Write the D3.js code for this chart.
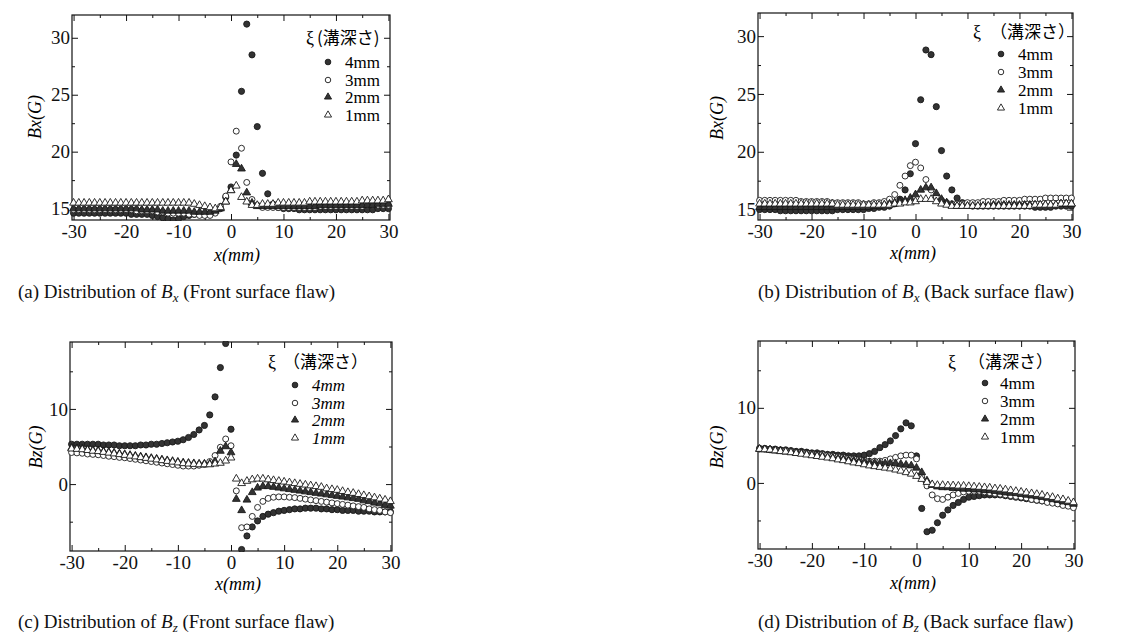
<!DOCTYPE html>
<html>
<head>
<meta charset="utf-8">
<script src="https://cdn.jsdelivr.net/npm/d3@7"></script>
<style>
  body { margin: 0; background: #fff; }
  svg { display: block; font-family: 'Liberation Serif', 'Times New Roman', 'Noto Sans CJK JP', serif; }
</style>
</head>
<body>
<svg id="fig" width="1128" height="640"></svg>
<script>
// positions along the plate (mm)
const xPositions = [-30,-29,-28,-27,-26,-25,-24,-23,-22,-21,-20,-19,-18,-17,-16,-15,-14,-13,-12,-11,
  -10,-9,-8,-7,-6,-5,-4,-3,-2,-1,0,1,2,3,4,5,6,7,8,9,10,11,12,13,14,15,16,17,18,19,20,
  21,22,23,24,25,26,27,28,29,30];

const depthLabels = ['4mm', '3mm', '2mm', '1mm'];

const xTicks = [-30, -20, -10, 0, 10, 20, 30];
const xMinorTicks = [-25, -15, -5, 5, 15, 25];
const bxTicks = [15, 20, 25, 30];
const bxMinorTicks = [17.5, 22.5, 27.5];
const bzTicks = [0, 10];
const bzMinorTicks = [-5, 5, 15];

// (a) Bx, front surface flaw
const aBx4 = [14.6,14.6,14.6,14.6,14.6,14.6,14.6,14.6,14.6,14.6, 14.6,14.5,14.5,14.5,14.5,14.4,14.3,14.2,14.1,14.0,
  14.1,14.3,14.4,14.5,14.5,14.5,14.6,14.7,15.0,16.0, 16.9,
  19.7,25.3,31.2,28.5,22.2,18.1,16.3,15.4,15.1,15.0, 15.0,15.0,14.9,14.9,14.9,14.9,14.9,14.9,14.9,14.9,
  14.9,14.9,14.9,14.9,14.9,14.9,14.9,15.0,15.0,15.0];
const aBx3 = [14.9,14.9,14.9,14.9,14.9,14.9,14.9,14.9,14.9,14.9, 14.9,14.9,14.8,14.8,14.8,14.8,14.7,14.7,14.6,14.6,
  14.6,14.6,14.5,14.5,14.4,14.4,14.4,14.6,15.2,16.1, 19.1,
  21.8,20.3,17.3,15.8,15.3,15.1,15.1,15.1,15.1,15.1, 15.1,15.1,15.1,15.1,15.1,15.1,15.2,15.2,15.2,15.2,
  15.2,15.2,15.2,15.2,15.2,15.3,15.3,15.3,15.3,15.3];
const aBx2 = [15.0,15.0,15.0,15.0,15.0,15.0,15.0,15.0,15.0,15.0, 15.0,15.0,15.0,14.9,14.9,14.9,14.9,14.8,14.8,14.8,
  14.8,14.8,14.8,14.7,14.7,14.7,14.7,14.8,15.0,15.6, 16.6,
  18.9,18.5,16.4,15.5,15.2,15.2,15.2,15.2,15.2,15.2, 15.2,15.2,15.2,15.2,15.2,15.2,15.3,15.3,15.3,15.3,
  15.3,15.3,15.3,15.3,15.3,15.3,15.3,15.4,15.4,15.4];
const aBx1 = [15.5,15.5,15.5,15.5,15.5,15.5,15.5,15.5,15.5,15.5, 15.5,15.5,15.5,15.5,15.5,15.5,15.5,15.5,15.5,15.5,
  15.5,15.5,15.5,15.4,15.3,15.2,15.1,15.0,15.1,15.6, 16.6,
  17.0,16.0,15.6,15.3,15.3,15.4,15.4,15.4,15.5,15.5, 15.5,15.5,15.5,15.5,15.6,15.6,15.6,15.6,15.6,15.6,
  15.6,15.6,15.6,15.6,15.7,15.7,15.7,15.7,15.7,15.8];

// (b) Bx, back surface flaw
const bBx4 = [15.0,15.0,15.0,15.0,14.9,14.9,14.9,14.9,14.9,14.9, 14.9,14.9,14.9,14.9,14.9,15.0,15.0,15.0,15.0,15.0,
  15.0,15.1,15.1,15.2,15.2,15.3,15.5,15.9,16.7,18.1, 20.7,
  24.5,28.8,28.4,23.9,20.1,17.9,16.7,16.0,15.6,15.4, 15.3,15.3,15.3,15.3,15.3,15.3,15.3,15.3,15.3,15.3,
  15.3,15.3,15.2,15.2,15.2,15.2,15.3,15.3,15.3,15.3];
const bBx3 = [15.8,15.8,15.8,15.8,15.8,15.8,15.8,15.8,15.7,15.7, 15.7,15.7,15.7,15.7,15.6,15.6,15.6,15.6,15.6,15.6,
  15.5,15.5,15.6,15.6,15.7,15.9,16.3,17.1,17.9,18.8, 19.1,
  18.6,17.6,16.7,16.1,15.8,15.6,15.5,15.5,15.5,15.6, 15.6,15.6,15.7,15.7,15.7,15.7,15.8,15.8,15.8,15.8,
  15.9,15.9,15.9,15.9,16.0,16.0,16.0,16.0,16.0,16.0];
const bBx2 = [15.2,15.2,15.2,15.2,15.2,15.2,15.2,15.2,15.2,15.2, 15.2,15.2,15.2,15.2,15.2,15.2,15.2,15.2,15.2,15.2,
  15.2,15.2,15.3,15.3,15.4,15.5,15.6,15.7,15.8,16.0, 16.3,
  16.7,16.9,16.9,16.4,15.9,15.6,15.4,15.3,15.3,15.3, 15.3,15.3,15.3,15.3,15.4,15.4,15.4,15.4,15.4,15.4,
  15.4,15.4,15.4,15.4,15.4,15.4,15.4,15.5,15.5,15.5];
const bBx1 = [15.5,15.5,15.5,15.5,15.5,15.5,15.5,15.5,15.5,15.5, 15.5,15.5,15.5,15.5,15.5,15.4,15.4,15.4,15.4,15.4,
  15.4,15.4,15.4,15.4,15.4,15.4,15.5,15.5,15.6,15.6, 15.7,
  15.9,15.9,15.9,15.7,15.5,15.4,15.3,15.3,15.3,15.3, 15.3,15.3,15.3,15.3,15.3,15.3,15.3,15.3,15.3,15.3,
  15.3,15.3,15.4,15.4,15.4,15.4,15.4,15.5,15.5,15.5];

// (c) Bz, front surface flaw
const cBz4 = [5.3,5.3,5.3,5.3,5.3,5.3,5.2,5.2,5.2,5.1, 5.1,5.1,5.1,5.2,5.2,5.3,5.3,5.4,5.5,5.6,
  5.7,5.9,6.2,6.6,7.2,7.8,9.2,11.6,15.5,18.7, 7.3,
  -12.0,-8.7,-6.9,-5.7,-4.9,-4.3,-4.0,-3.8,-3.6,-3.5, -3.4,-3.3,-3.3,-3.2,-3.2,-3.2,-3.3,-3.3,-3.4,-3.4,
  -3.5,-3.5,-3.5,-3.6,-3.6,-3.6,-3.7,-3.7,-3.7,-3.7];
const cBz3 = [4.2,4.15,4.1,4.0,3.95,3.9,3.8,3.7,3.65,3.55, 3.5,3.4,3.3,3.2,3.1,3.0,2.9,2.8,2.7,2.6,
  2.5,2.4,2.4,2.4,2.5,2.6,3.0,3.8,4.9,6.0, 5.1,
  -0.9,-5.8,-5.7,-4.3,-3.1,-2.3,-1.9,-1.75,-1.7,-1.7, -1.75,-1.8,-1.9,-2.0,-2.1,-2.2,-2.3,-2.4,-2.5,-2.6,
  -2.7,-2.8,-2.9,-3.0,-3.1,-3.3,-3.4,-3.5,-3.7,-3.8];
const cBz2 = [4.8,4.75,4.7,4.6,4.5,4.45,4.35,4.25,4.15,4.05, 3.95,3.85,3.75,3.65,3.55,3.45,3.35,3.25,3.15,3.05,
  2.95,2.85,2.8,2.75,2.7,2.7,2.7,3.0,4.4,5.0, 4.2,
  -2.0,-3.5,-2.1,-1.1,-0.5,-0.3,-0.3,-0.4,-0.5,-0.6, -0.7,-0.8,-0.9,-1.0,-1.1,-1.2,-1.3,-1.4,-1.5,-1.6,
  -1.7,-1.8,-1.9,-2.0,-2.2,-2.3,-2.5,-2.6,-2.8,-2.9];
const cBz1 = [4.7,4.65,4.6,4.5,4.4,4.35,4.25,4.15,4.05,3.95, 3.85,3.75,3.65,3.55,3.45,3.35,3.25,3.15,3.05,2.95,
  2.85,2.75,2.7,2.65,2.6,2.6,2.6,2.7,2.8,3.1, 3.5,
  0.7,0.1,0.4,0.6,0.7,0.7,0.6,0.5,0.4,0.3, 0.2,0.1,0.0,-0.1,-0.2,-0.3,-0.4,-0.6,-0.7,-0.8,
  -0.95,-1.1,-1.2,-1.35,-1.5,-1.65,-1.8,-1.95,-2.1,-2.3];

// (d) Bz, back surface flaw
const dBz4 = [4.6,4.6,4.5,4.5,4.4,4.4,4.3,4.2,4.2,4.1, 4.0,4.0,3.9,3.8,3.8,3.7,3.7,3.6,3.6,3.6,
  3.7,3.9,4.2,4.7,5.1,5.6,6.3,7.2,8.0,7.6, 3.6,
  -3.4,-6.5,-6.3,-5.3,-4.3,-3.6,-3.0,-2.6,-2.2,-1.9, -1.8,-1.7,-1.6,-1.6,-1.6,-1.6,-1.7,-1.8,-1.9,-2.0,
  -2.1,-2.2,-2.3,-2.4,-2.5,-2.6,-2.7,-2.8,-2.9,-3.0];
const dBz3 = [4.5,4.5,4.4,4.4,4.3,4.3,4.2,4.1,4.1,4.0, 3.9,3.8,3.8,3.7,3.6,3.5,3.4,3.3,3.2,3.1,
  3.0,2.9,2.9,2.9,3.0,3.2,3.4,3.6,3.7,3.7, 3.2,
  0.8,-0.4,-1.6,-2.1,-2.2,-1.9,-1.6,-1.4,-1.2,-1.1, -1.1,-1.1,-1.2,-1.3,-1.4,-1.5,-1.6,-1.7,-1.8,-1.9,
  -2.0,-2.2,-2.3,-2.4,-2.6,-2.7,-2.8,-3.0,-3.1,-3.3];
const dBz2 = [4.5,4.45,4.4,4.3,4.25,4.15,4.1,4.0,3.95,3.85, 3.75,3.65,3.55,3.45,3.35,3.25,3.15,3.05,2.95,2.85,
  2.8,2.7,2.65,2.6,2.6,2.6,2.6,2.5,2.4,2.3, 2.0,
  1.4,0.3,-0.3,-0.5,-0.6,-0.6,-0.7,-0.7,-0.8,-0.8, -0.9,-0.9,-1.0,-1.0,-1.1,-1.2,-1.3,-1.35,-1.4,-1.5,
  -1.6,-1.7,-1.8,-1.9,-2.0,-2.2,-2.3,-2.5,-2.6,-2.8];
const dBz1 = [4.5,4.45,4.4,4.3,4.2,4.15,4.05,3.95,3.85,3.75, 3.65,3.55,3.45,3.35,3.25,3.1,3.0,2.85,2.7,2.6,
  2.45,2.3,2.2,2.1,2.0,1.9,1.75,1.6,1.4,1.2, 0.9,
  0.5,0.1,-0.2,-0.3,-0.3,-0.35,-0.35,-0.4,-0.4,-0.45, -0.5,-0.55,-0.6,-0.65,-0.75,-0.8,-0.9,-1.0,-1.1,-1.2,
  -1.3,-1.4,-1.5,-1.6,-1.8,-1.9,-2.1,-2.2,-2.4,-2.6];

const svg = d3.select('#fig');
const SERIF = "'Liberation Serif', 'Times New Roman', 'Noto Sans CJK JP', serif";

// marker looks for 4mm, 3mm, 2mm, 1mm
const markerKinds = [
  { shape: d3.symbolCircle, fill: '#333', size: 30 },
  { shape: d3.symbolCircle, fill: '#fff', size: 28 },
  { shape: d3.symbolTriangle, fill: '#333', size: 26 },
  { shape: d3.symbolTriangle, fill: '#fff', size: 26 },
];

const addMarker = (sel, kind, scale) =>
  sel
    .append('path')
    .attr('d', d3.symbol().type(kind.shape).size(kind.size * (scale || 1)))
    .attr('fill', kind.fill)
    .attr('stroke', '#1a1a1a')
    .attr('stroke-width', 0.9);

const panels = [
  {
    id: 'a', series: [aBx4, aBx3, aBx2, aBx1],
    left: 72, right: 390, top: 15, bottom: 220, yDomain: [14, 32],
    yTicks: bxTicks, yMinor: bxMinorTicks, yName: 'Bx(G)', yLab: [35, 117], xLab: [237, 261],
    legend: { xi: 306, paren: 317, title: '(溝深さ)', ty: 44, ys: [62, 80, 97, 115], mx: 328, tx: 345, italic: false },
    caption: { x: 18, y: 298, tag: '(a)', sub: 'x', tail: ' (Front surface flaw)' },
  },
  {
    id: 'b', series: [bBx4, bBx3, bBx2, bBx1],
    left: 758, right: 1073, top: 13, bottom: 220, yDomain: [14.1, 32],
    yTicks: bxTicks, yMinor: bxMinorTicks, yName: 'Bx(G)', yLab: [717, 118], xLab: [913, 259],
    legend: { xi: 973, paren: 990, title: '（溝深さ）', ty: 38, ys: [54, 72, 90, 108], mx: 1001, tx: 1018, italic: false },
    caption: { x: 758, y: 298, tag: '(b)', sub: 'x', tail: ' (Back surface flaw)' },
  },
  {
    id: 'c', series: [cBz4, cBz3, cBz2, cBz1],
    left: 70, right: 392, top: 342, bottom: 551, yDomain: [-8.9, 18.9],
    yTicks: bzTicks, yMinor: bzMinorTicks, yName: 'Bz(G)', yLab: [36, 447], xLab: [238, 590],
    legend: { xi: 268, paren: 283, title: '（溝深さ）', ty: 368, ys: [385, 403, 420, 438], mx: 295, tx: 312, italic: true },
    caption: { x: 18, y: 628, tag: '(c)', sub: 'z', tail: ' (Front surface flaw)' },
  },
  {
    id: 'd', series: [dBz4, dBz3, dBz2, dBz1],
    left: 758, right: 1075, top: 341, bottom: 549, yDomain: [-8.8, 18.9],
    yTicks: bzTicks, yMinor: bzMinorTicks, yName: 'Bz(G)', yLab: [717, 447], xLab: [913, 589],
    legend: { xi: 948, paren: 968, title: '（溝深さ）', ty: 368, ys: [383, 401, 419, 437], mx: 985, tx: 1000, italic: false },
    caption: { x: 758, y: 628, tag: '(d)', sub: 'z', tail: ' (Back surface flaw)' },
  },
];

const drawPanel = (p) => {
  const x = d3.scaleLinear().domain([-30.3, 30.3]).range([p.left, p.right]);
  const y = d3.scaleLinear().domain(p.yDomain).range([p.bottom, p.top]);
  const g = svg.append('g').attr('class', 'panel-' + p.id);

  const axisGroup = (axis, tr) =>
    g
      .append('g')
      .attr('transform', tr)
      .call(axis)
      .call((s) => s.select('.domain').remove())
      .attr('font-family', SERIF)
      .attr('font-size', 19)
      .call((s) => s.selectAll('line').attr('stroke', '#111'))
      .call((s) => s.selectAll('text').attr('fill', '#111'));

  const fmt = (d) => String(d);
  // bottom + left carry the labels, top + right just mirror the ticks
  axisGroup(d3.axisBottom(x).tickValues(xTicks).tickSize(-6).tickPadding(5).tickFormat(fmt), `translate(0,${p.bottom})`);
  axisGroup(d3.axisBottom(x).tickValues(xMinorTicks).tickSize(-3).tickFormat(''), `translate(0,${p.bottom})`);
  axisGroup(d3.axisTop(x).tickValues(xTicks).tickSize(-6).tickFormat(''), `translate(0,${p.top})`);
  axisGroup(d3.axisTop(x).tickValues(xMinorTicks).tickSize(-3).tickFormat(''), `translate(0,${p.top})`);
  axisGroup(d3.axisLeft(y).tickValues(p.yTicks).tickSize(-6).tickPadding(2).tickFormat(fmt), `translate(${p.left},0)`);
  axisGroup(d3.axisLeft(y).tickValues(p.yMinor).tickSize(-3).tickFormat(''), `translate(${p.left},0)`);
  axisGroup(d3.axisRight(y).tickValues(p.yTicks).tickSize(-6).tickFormat(''), `translate(${p.right},0)`);
  axisGroup(d3.axisRight(y).tickValues(p.yMinor).tickSize(-3).tickFormat(''), `translate(${p.right},0)`);

  g.append('rect')
    .attr('x', p.left)
    .attr('y', p.top)
    .attr('width', p.right - p.left)
    .attr('height', p.bottom - p.top)
    .attr('fill', 'none')
    .attr('stroke', '#111')
    .attr('stroke-width', 1.2);

  svg
    .append('clipPath')
    .attr('id', 'clip-' + p.id)
    .append('rect')
    .attr('x', p.left - 10)
    .attr('y', p.top - 1)
    .attr('width', p.right - p.left + 20)
    .attr('height', p.bottom - p.top + 2);

  const plot = g.append('g').attr('clip-path', `url(#clip-${p.id})`);
  p.series.forEach((values, i) => {
    const kind = markerKinds[i];
    plot
      .append('g')
      .selectAll('path')
      .data(values.map((v, j) => ({ x: xPositions[j], v })))
      .enter()
      .append('path')
      .attr('transform', (d) => `translate(${x(d.x)},${y(d.v)})`)
      .attr('d', d3.symbol().type(kind.shape).size(kind.size))
      .attr('fill', kind.fill)
      .attr('stroke', '#1a1a1a')
      .attr('stroke-width', 0.9);
  });

  // axis titles
  g.append('text')
    .attr('transform', `translate(${p.yLab[0]},${p.yLab[1]}) rotate(-90)`)
    .attr('text-anchor', 'middle')
    .attr('dy', '0.35em')
    .attr('font-size', 18)
    .attr('font-style', 'italic')
    .text(p.yName);
  g.append('text')
    .attr('x', p.xLab[0])
    .attr('y', p.xLab[1])
    .attr('text-anchor', 'middle')
    .attr('font-size', 18)
    .attr('font-style', 'italic')
    .text('x(mm)');

  // legend
  const lg = p.legend;
  g.append('text').attr('x', lg.xi).attr('y', lg.ty).attr('font-size', 18).text('ξ');
  g.append('text')
    .attr('x', lg.paren)
    .attr('y', lg.ty)
    .attr('font-size', 17)
    .attr('font-family', "'Noto Sans CJK JP', sans-serif")
    .text(lg.title);
  depthLabels.forEach((label, i) => {
    const row = g.append('g').attr('transform', `translate(${lg.mx},${lg.ys[i]})`);
    addMarker(row, markerKinds[i], 0.85);
    g.append('text')
      .attr('x', lg.tx)
      .attr('y', lg.ys[i] + 6)
      .attr('font-size', 17)
      .attr('font-style', lg.italic ? 'italic' : 'normal')
      .text(label);
  });

  // caption
  const c = p.caption;
  const t = svg.append('text').attr('x', c.x).attr('y', c.y).attr('font-size', 19).attr('fill', '#111');
  t.append('tspan').text(c.tag + ' Distribution of ');
  t.append('tspan').attr('font-style', 'italic').text('B');
  t.append('tspan').attr('font-style', 'italic').attr('font-size', 13).attr('dy', 4).text(c.sub);
  t.append('tspan').attr('dy', -4).text(c.tail);
};

panels.forEach(drawPanel);
</script>
</body>
</html>
